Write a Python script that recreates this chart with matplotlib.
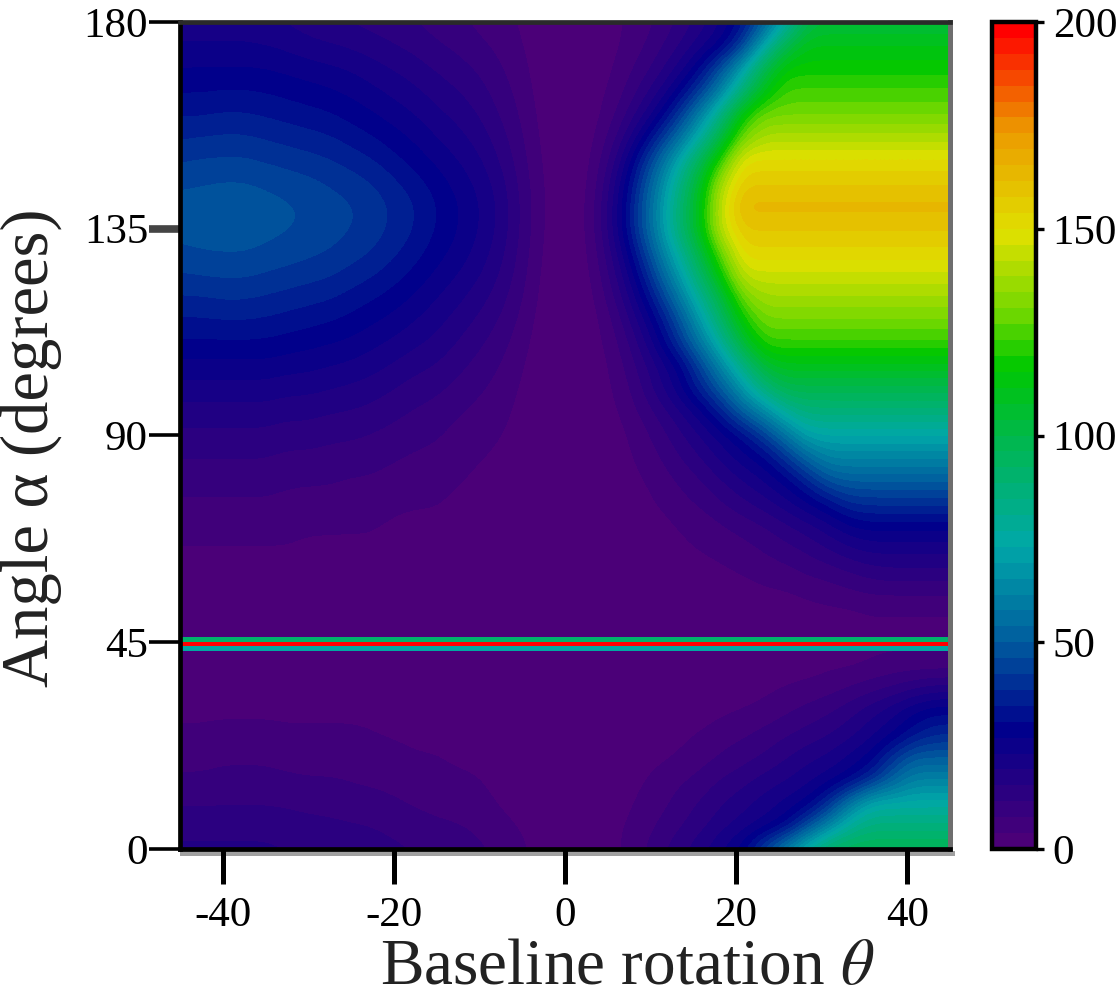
# -*- coding: utf-8 -*-
# signal map: baseline rotation vs angle
import numpy as np
import matplotlib
matplotlib.use("Agg")
import matplotlib.pyplot as plt
from matplotlib.colors import LinearSegmentedColormap
from matplotlib.patches import Rectangle

plt.rcParams['font.family'] = ['Liberation Serif', 'DejaVu Serif']
plt.rcParams['mathtext.fontset'] = 'stix'
plt.rcParams['axes.unicode_minus'] = False

theta_step = 2.5
left_alpha_step = 10
right_alpha_step = 5
right_shift = 0.8  # my readings of the ridge came out a bit too far left

theta_ticks = [-40, -20, 0, 20, 40]
alpha_ticks = [0, 45, 90, 135, 180]
bar_ticks = [0, 50, 100, 150, 200]

# left half: rows alpha = 0, 10, ... 180; columns theta = -45, -42.5, ... 0
signal_left = [
    [17,17,17,17,17,16,16,15,15,14,13,12,11,10,9,7,5,2,0],
    [11,11,11,11,11,11,10,10,9,9,8,7,6,6,5,3,2,1,0],
    [6,6,7,7,7,6,6,6,6,5,5,4,4,3,3,2,1,0,0],
    [3,3,3,3,3,3,3,3,3,3,2,2,2,2,1,1,1,0,0],
    [1,1,1,1,1,1,1,1,1,1,1,1,1,0,0,0,0,0,0],
    [0,0,0,0,0,0,0,0,0,0,0,0,0,0,0,0,0,0,0],
    [2,2,2,2,2,2,2,2,2,2,1,1,1,1,1,1,0,0,0],
    [5,5,5,5,5,5,4,4,4,4,3,3,3,2,2,1,1,0,0],
    [9,9,9,9,9,8,8,8,7,7,6,5,5,4,3,2,1,0,0],
    [14,14,14,14,14,13,13,12,12,11,10,9,8,6,5,4,2,1,0],
    [21,21,21,21,21,20,20,19,18,17,15,13,12,10,8,6,3,1,0],
    [30,30,30,30,30,29,28,27,26,24,22,20,18,15,12,9,5,1,0],
    [38,38,39,39,38,37,36,35,33,31,29,26,23,20,17,13,8,2,0],
    [46,47,47,47,46,45,44,43,41,39,36,33,29,26,22,17,10,3,0],
    [49,49,50,50,49,48,47,45,44,42,39,36,32,28,24,19,11,4,0],
    [42,43,43,43,42,41,40,39,37,35,32,29,26,23,20,15,9,3,0],
    [34,34,35,35,34,33,32,31,29,27,25,23,20,18,15,11,7,2,0],
    [27,27,27,27,27,26,25,24,23,21,19,17,15,13,11,8,5,1,0],
    [20,20,20,20,19,18,16,15,14,13,12,11,9,8,6,5,3,1,0],
]

# right half: rows alpha = 0, 5, ... 180; columns theta = 0, 2.5, ... 45
signal_right = [
    [0,1,3,6,10,14,18,23,29,45,62,80,95,97,98,98,98,98,98],
    [0,1,3,5,8,11,14,18,21,24,29,45,62,80,86,86,86,86,86],
    [0,1,2,4,6,9,12,15,18,21,24,27,38,58,75,75,75,75,75],
    [0,0,2,3,5,7,9,12,14,17,19,22,25,29,38,52,62,62,62],
    [0,0,1,2,3,4,6,8,10,12,15,18,20,24,28,40,50,50,50],
    [0,0,1,1,2,3,4,6,7,9,11,13,15,18,22,26,33,38,38],
    [0,0,0,1,1,2,2,3,4,5,7,9,11,14,18,22,27,30,30],
    [0,0,0,0,1,1,1,2,2,3,4,5,6,8,10,12,15,17,17],
    [0,0,0,0,0,0,1,1,1,1,2,2,3,3,4,5,5,5,5],
    [0,0,0,0,0,0,0,0,1,1,1,1,2,2,3,3,3,3,3],
    [0,0,0,0,0,0,1,1,1,1,1,2,2,2,3,3,3,3,3],
    [0,0,0,0,1,1,1,2,2,3,3,4,5,6,7,7,7,7,7],
    [0,0,0,1,1,2,2,3,4,5,6,8,9,11,13,14,14,14,14],
    [0,0,0,1,2,3,4,5,6,8,10,12,15,18,20,20,20,20,20],
    [0,0,1,1,2,4,5,7,9,11,14,17,21,26,28,28,28,28,28],
    [0,0,1,2,4,6,8,11,14,17,21,26,31,38,39,39,39,39,39],
    [0,0,1,3,5,8,11,15,19,23,28,36,47,50,50,50,50,50,50],
    [0,0,2,4,7,11,15,20,25,29,39,52,62,62,62,62,62,62,62],
    [0,0,2,5,9,14,19,25,31,42,56,72,73,73,73,73,73,73,73],
    [0,1,3,7,12,18,25,35,50,62,78,86,86,86,86,86,86,86,86],
    [0,1,4,9,17,25,36,49,67,86,98,98,98,98,98,98,98,98,98],
    [0,1,5,11,19,27,43,62,83,105,110,110,110,110,110,110,110,110,110],
    [0,2,6,14,25,39,57,78,104,122,122,122,122,122,122,122,122,122,122],
    [0,2,8,18,30,46,68,92,117,130,130,130,130,130,130,130,130,130,130],
    [0,3,11,23,38,57,80,102,130,138,138,138,138,138,138,138,138,138,138],
    [0,4,14,28,47,68,92,117,145,145,145,145,145,145,145,145,145,145,145],
    [0,5,17,34,55,78,102,130,153,153,153,153,153,153,153,153,153,153,153],
    [0,6,20,40,62,88,112,145,158,158,158,158,158,158,158,158,158,158,158],
    [0,6,20,40,62,88,112,145,164,164,164,164,164,164,164,164,164,164,164],
    [0,5,18,37,58,83,108,140,157,157,157,157,157,157,157,157,157,157,157],
    [0,4,14,31,50,72,97,122,151,151,151,151,151,151,151,151,151,151,151],
    [0,3,10,22,37,54,76,102,130,140,140,140,140,140,140,140,140,140,140],
    [0,2,7,15,25,40,60,85,117,130,130,130,130,130,130,130,130,130,130],
    [0,2,5,11,18,28,42,61,88,112,124,124,124,124,124,124,124,124,124],
    [0,1,4,8,13,20,30,47,70,100,117,117,117,117,117,117,117,117,117],
    [0,1,3,6,10,15,21,27,42,72,100,112,112,112,112,112,112,112,112],
    [0,1,3,5,8,12,17,23,32,50,73,100,103,103,103,103,103,103,103],
]

# the narrow resonance line near alpha = 45 (bottom to top)
line_values = [76, 198, 90]
line_span = [43.1, 46.1]

bar_values = [0, 28, 50, 73, 100, 117, 130, 150, 175, 200]
bar_colors = ['#4b0078', '#00008c', '#005f9f', '#00a8a8', '#00b84a',
              '#00c800', '#70d800', '#e0e000', '#ec9a00', '#ff0000']

cmap = LinearSegmentedColormap.from_list(
    'spec', [(v / 200, c) for v, c in zip(bar_values, bar_colors)], N=52)

signal_left = np.array(signal_left, dtype=float)
signal_right = np.array(signal_right, dtype=float)

fig = plt.figure(figsize=(11.19, 10), dpi=100)
ax = fig.add_axes([180 / 1119, 1 - 849 / 1000, 770 / 1119, 827 / 1000])

ax.imshow(signal_left, origin='lower', aspect='auto', cmap=cmap, vmin=0, vmax=200,
          extent=(-45 - theta_step / 2, theta_step / 2,
                  -left_alpha_step / 2, 180 + left_alpha_step / 2),
          interpolation='bicubic', interpolation_stage='data')
ax.imshow(signal_right, origin='lower', aspect='auto', cmap=cmap, vmin=0, vmax=200,
          extent=(-theta_step / 2 + right_shift, 45 + theta_step / 2 + right_shift,
                  -right_alpha_step / 2, 180 + right_alpha_step / 2),
          interpolation='bicubic', interpolation_stage='data')
ax.imshow(np.array(line_values, dtype=float).reshape(-1, 1), origin='lower',
          aspect='auto', cmap=cmap, vmin=0, vmax=200,
          extent=(-45, 45, line_span[0], line_span[1]), interpolation='nearest')
ax.set_xlim(-45, 45)
ax.set_ylim(0, 180)

ax.set_xticks(theta_ticks)
ax.set_yticks(alpha_ticks)
ax.tick_params(axis='x', length=25, width=3.6, labelsize=31, pad=9)
ax.tick_params(axis='y', length=22, width=2.6, labelsize=31, pad=1)
thick_tick = ax.yaxis.get_major_ticks()[3].tick1line
thick_tick.set_markeredgewidth(5.5)
thick_tick.set_markeredgecolor('#444444')
for side in ['left', 'bottom']:
    ax.spines[side].set_linewidth(3.4)
ax.spines['top'].set_linewidth(3.4)
ax.spines['top'].set_color('#2a2a2a')
ax.spines['right'].set_linewidth(3.6)
ax.spines['right'].set_color('#6e6e6e')

# grey shadow under the frame
fig.add_artist(Rectangle((180 / 1119, 1 - 856 / 1000), 775 / 1119, 5 / 1000,
                         transform=fig.transFigure, facecolor='#a0a0a0',
                         edgecolor='none', zorder=0))

cax = fig.add_axes([992 / 1119, 1 - 849 / 1000, 44 / 1119, 827 / 1000])
sm = plt.cm.ScalarMappable(cmap=cmap, norm=plt.Normalize(0, 200))
cb = fig.colorbar(sm, cax=cax, ticks=bar_ticks)
cb.outline.set_linewidth(3.2)
cb.ax.tick_params(length=6, width=2.4, labelsize=31, pad=6)

fig.text(627 / 1119, 1 - 998 / 1000, r'Baseline rotation $\theta$',
         fontsize=47, color='#222222', ha='center', va='bottom')
fig.text(48 / 1119, 1 - 448 / 1000, 'Angle \u03b1 (degrees)', fontsize=48,
         color='#222222', rotation=90, ha='center', va='baseline',
         rotation_mode='anchor')

fig.savefig('out.png', dpi=100)
